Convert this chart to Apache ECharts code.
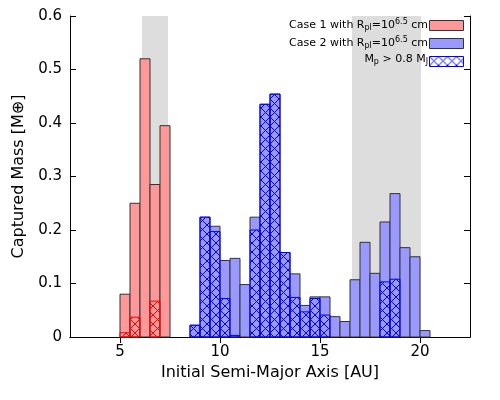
<!DOCTYPE html><html><head><meta charset="utf-8">
<script src="https://cdn.jsdelivr.net/npm/echarts@6/dist/echarts.min.js"></script>
<style>html,body{margin:0;padding:0;background:#fff}#c{width:500px;height:400px}</style></head><body><div id="c"></div>
<script>
const binWidth = 0.5;
const case1Start = [5.0, 5.5, 6.0, 6.5, 7.0];
const case1Total = [0.08, 0.25, 0.52, 0.285, 0.395];
const case1Hatch = [0.008, 0.037, 0, 0.067, 0];
const case2Start = [8.5,9.0,9.5,10.0,10.5,11.0,11.5,12.0,12.5,13.0,13.5,14.0,14.5,15.0,15.5,16.0,16.5,17.0,17.5,18.0,18.5,19.0,19.5,20.0];
const case2Total = [0.022,0.224,0.207,0.143,0.147,0.098,0.224,0.435,0.454,0.158,0.118,0.059,0.075,0.075,0.038,0.029,0.107,0.177,0.119,0.215,0.268,0.167,0.15,0.012];
const case2Hatch = [0.022,0.224,0.197,0.072,0.003,0,0.2,0.435,0.454,0.158,0.074,0.047,0.072,0.041,0,0,0,0,0,0.103,0.108,0,0,0];
const bands = [[6.1, 7.4], [16.6, 20.05]];
const xTicks = [5, 10, 15, 20];

function hatch(color){
  const c = document.createElement('canvas'); c.width = 9; c.height = 9;
  const g = c.getContext('2d'); g.strokeStyle = color; g.lineWidth = 1;
  g.beginPath(); g.moveTo(0,0); g.lineTo(9,9); g.moveTo(9,0); g.lineTo(0,9); g.stroke();
  return {image: c, repeat: 'repeat'};
}
function bars(starts, vals){
  return starts.map((s,i)=>[s, s+binWidth, vals[i]]);
}
function rectItem(style){
  return function(params, api){
    const p0 = api.coord([api.value(0), api.value(2)]);
    const p1 = api.coord([api.value(1), 0]);
    return {type:'rect', shape:{x:p0[0], y:p0[1], width:p1[0]-p0[0], height:p1[1]-p0[1]}, style: style};
  };
}
function bandItem(params, api){
  const p0 = api.coord([api.value(0), 0.6]);
  const p1 = api.coord([api.value(1), 0]);
  return {type:'rect', shape:{x:p0[0], y:p0[1], width:p1[0]-p0[0], height:p1[1]-p0[1]}, style:{fill:'#dddddd'}};
}
const redHatch = hatch('#ff0000'), blueHatch = hatch('#0000ff');
const font = 'DejaVu Sans';
const chart = echarts.init(document.getElementById('c'));
const rich = {n:{fontSize:11, fontFamily:font, fill:'#000'}, sub:{fontSize:8, padding:[5,0,0,0], fontFamily:font}, sup:{fontSize:8, padding:[0,0,6,0], fontFamily:font}};
function legendRow(y, txt, fill, stroke){
  return [
    {type:'text', right:72, top:y, z:10, style:{text:txt, rich:rich, fontSize:11, fontFamily:font, fill:'#000'}},
    {type:'rect', right:36, top:y+2, z:10, shape:{width:34, height:10}, style:{fill:fill, stroke:stroke, lineWidth:1}}
  ];
}
chart.setOption({
  animation:false,
  grid:{left:70, right:30, top:16, bottom:63},
  xAxis:[{type:'value', min:2.5, max:22.5, name:'Initial Semi-Major Axis [AU]', nameLocation:'middle', nameGap:26,
    nameTextStyle:{fontSize:16, fontFamily:font, color:'#000'},
    axisLine:{show:true, lineStyle:{color:'#000'}}, splitLine:{show:false},
    axisTick:{inside:true, length:6, customValues:xTicks, lineStyle:{color:'#000'}},
    axisLabel:{customValues:xTicks, fontSize:15, fontFamily:font, color:'#000', margin:8}},
    {type:'value', position:'top', min:2.5, max:22.5, axisLine:{show:true, lineStyle:{color:'#000'}}, splitLine:{show:false},
    axisTick:{inside:true, length:6, customValues:xTicks, lineStyle:{color:'#000'}}, axisLabel:{show:false}}],
  yAxis:[{type:'value', min:0, max:0.6, interval:0.1, name:'Captured Mass [M⊕]', nameLocation:'middle', nameGap:42,
    nameTextStyle:{fontSize:16, fontFamily:font, color:'#000'},
    axisLine:{show:true, lineStyle:{color:'#000'}}, splitLine:{show:false},
    axisTick:{inside:true, length:6, lineStyle:{color:'#000'}},
    axisLabel:{fontSize:15, fontFamily:font, color:'#000', formatter:v=>v===0?'0':v.toFixed(1)}},
    {type:'value', position:'right', min:0, max:0.6, interval:0.1, axisLine:{show:true, lineStyle:{color:'#000'}}, splitLine:{show:false},
    axisTick:{inside:true, length:6, lineStyle:{color:'#000'}}, axisLabel:{show:false}}],
  series:[
    {type:'custom', renderItem:bandItem, data:bands, z:1, silent:true},
    {type:'custom', renderItem:rectItem({fill:'#ff9999', stroke:'#333', lineWidth:1}), data:bars(case1Start, case1Total), z:2},
    {type:'custom', renderItem:rectItem({fill:redHatch, stroke:'#ff0000', lineWidth:1}), data:bars(case1Start, case1Hatch).filter(d=>d[2]>0), z:3},
    {type:'custom', renderItem:rectItem({fill:'#9999ff', stroke:'#333', lineWidth:1}), data:bars(case2Start, case2Total), z:2},
    {type:'custom', renderItem:rectItem({fill:blueHatch, stroke:'#0000ff', lineWidth:1}), data:bars(case2Start, case2Hatch).filter(d=>d[2]>0), z:3}
  ],
  graphic:[
    ...legendRow(18, '{n|Case 1 with R}{sub|pl}{n|=10}{sup|6.5}{n| cm}', '#ff9999', '#333'),
    ...legendRow(36, '{n|Case 2 with R}{sub|pl}{n|=10}{sup|6.5}{n| cm}', '#9999ff', '#333'),
    ...legendRow(54, '{n|M}{sub|p}{n| > 0.8 M}{sub|J}', blueHatch, '#0000ff')
  ]
});
</script></body></html>
